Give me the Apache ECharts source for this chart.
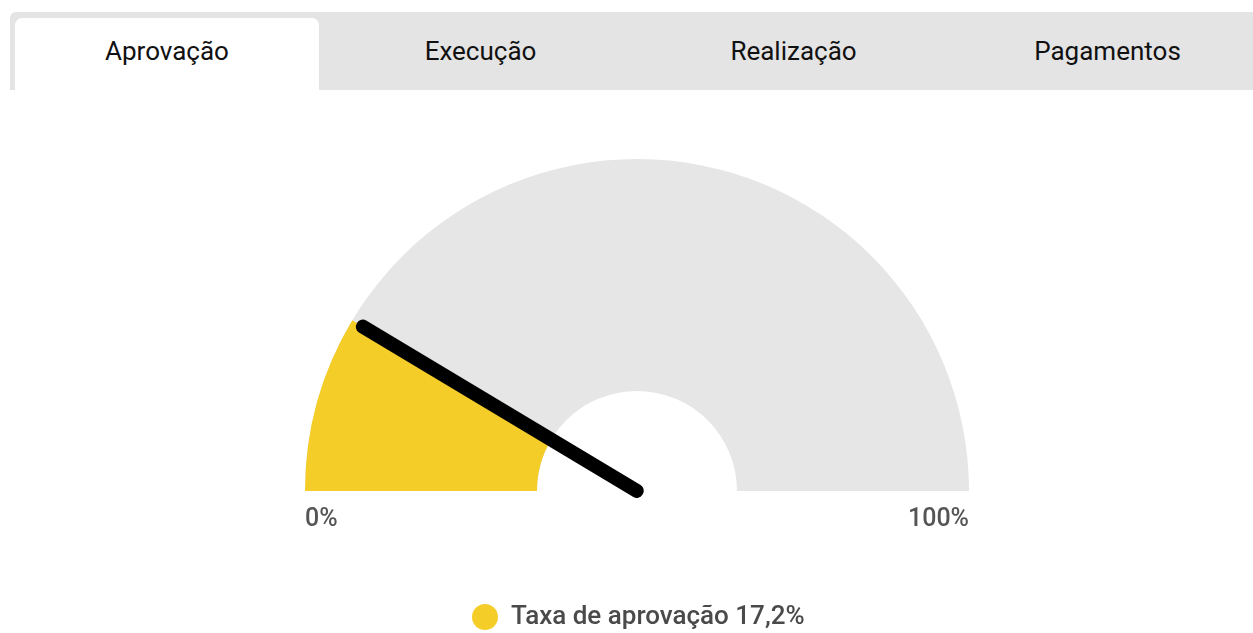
<!DOCTYPE html>
<html>
<head>
<meta charset="utf-8">
<script src="https://cdn.jsdelivr.net/npm/echarts@6/dist/echarts.min.js"></script>
<style>
    html, body { margin: 0; padding: 0; background: #fff; font-family: Roboto, sans-serif; }
    .tabs {
        position: absolute; left: 10px; top: 12px; width: 1243px; height: 78px;
        background: #e4e4e4; border-radius: 6px 0 0 0; z-index: 2;
    }
    .tab {
        position: absolute; top: 0; height: 78px; width: 313px;
        font-size: 26px; color: #111; text-align: center; line-height: 78px;
    }
    .tab.active {
        background: #fff; top: 6px; height: 72px; line-height: 66px;
        border-radius: 7px 7px 0 0; left: 5px; width: 304px;
    }
    #chart { position: absolute; left: 0; top: 0; width: 1253px; height: 633px; }
</style>
</head>
<body>
<div class="tabs">
    <div class="tab active">Aprovação</div>
    <div class="tab" style="left: 314px">Execução</div>
    <div class="tab" style="left: 627px">Realização</div>
    <div class="tab" style="left: 941px">Pagamentos</div>
</div>
<div id="chart"></div>
<script>
// dados
const seriesName = 'Taxa de aprovação'
const taxaAprovacao = 17.2
const tickLabels = ['0%', '100%']

const cx = 637
const cy = 491
const raio = 332

const chart = echarts.init(document.getElementById('chart'))

const baseGauge = {
    type: 'gauge',
    startAngle: 180,
    endAngle: 0,
    min: 0,
    max: 100,
    center: [cx, cy],
    radius: raio,
    anchor: { show: false },
    axisTick: { show: false },
    splitLine: { show: false },
    axisLabel: { show: false },
    title: { show: false },
    detail: { show: false },
}

chart.setOption({
    animation: false,
    legend: {
        data: [seriesName],
        left: 472,
        top: 604,
        padding: 0,
        icon: 'circle',
        itemWidth: 26,
        itemHeight: 26,
        itemStyle: { color: '#f4cd29' },
        formatter: (name) => name + ' ' + String(taxaAprovacao).replace('.', ',') + '%',
        textStyle: {
            fontFamily: 'Roboto',
            fontSize: 26,
            fontWeight: 500,
            color: '#4a4a4a',
            padding: [0, 0, 0, 8],
        },
    },
    graphic: [
        {
            type: 'text',
            left: cx - raio,
            top: 507,
            style: { text: tickLabels[0], font: '500 25px Roboto', fill: '#555' },
        },
        {
            type: 'text',
            right: 1253 - (cx + raio),
            top: 507,
            style: { text: tickLabels[1], font: '500 25px Roboto', fill: '#555' },
        },
    ],
    series: [
        {
            ...baseGauge,
            name: seriesName,
            z: 2,
            axisLine: {
                lineStyle: { width: 232, color: [[1, '#e6e6e6']] },
            },
            progress: {
                show: true,
                width: 232,
                itemStyle: { color: '#f4cd29' },
            },
            pointer: { show: false },
            data: [{ name: seriesName, value: taxaAprovacao, itemStyle: { color: '#f4cd29' } }],
        },
        {
            // so a agulha, por cima do arco
            ...baseGauge,
            name: seriesName,
            z: 5,
            axisLine: { show: false },
            progress: { show: false },
            pointer: {
                icon: 'rect',
                length: 320,
                width: 1,
                offsetCenter: [0, 0],
                itemStyle: {
                    color: '#000',
                    borderColor: '#000',
                    borderWidth: 13,
                    borderJoin: 'round',
                },
            },
            data: [{ name: seriesName, value: taxaAprovacao }],
        },
    ],
})
</script>
</body>
</html>
